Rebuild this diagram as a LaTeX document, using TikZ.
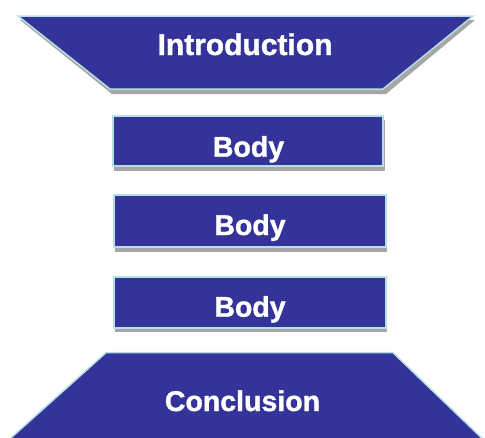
\documentclass[tikz,border=0pt]{standalone}
\usepackage{fontspec}
\setmainfont[BoldFeatures={FakeBold=1.2}]{Liberation Sans}
\definecolor{fillblue}{HTML}{333399}
\definecolor{edgecyan}{HTML}{B4E0E4}
\definecolor{shadowgrey}{HTML}{A6A6A6}
\tikzset{
  panel/.style={fill=fillblue, draw=edgecyan, line width=1.5pt, line join=miter},
  panelshadow/.style={fill=shadowgrey, draw=none},
  label/.style={text=white, font=\fontsize{28.5}{30}\selectfont\bfseries, anchor=base, inner sep=0pt}
}
\begin{document}
\begin{tikzpicture}[x=1pt,y=-1pt]
\useasboundingbox (0,0) rectangle (485,437);
\clip (0,0) rectangle (485,437);
% Introduction
\fill[panelshadow] (20,20) -- (475,20) -- (386,94) -- (112,94) -- cycle;
\path[panel] (18,16) -- (473,16) -- (383,89) -- (110,89) -- cycle;
\node[label, font=\fontsize{30}{32}\selectfont\bfseries] (intro) at (245,55) {Introduction};
% Body boxes
\fill[panelshadow] (114,120) rectangle (385,171);
\path[panel] (113,116) rectangle (383,166);
\node[label] (body1) at (248.5,156.7) {Body};
\fill[panelshadow] (115,199) rectangle (387,252);
\path[panel] (114,195) rectangle (386,247);
\node[label] (body2) at (250,235) {Body};
\fill[panelshadow] (115,281) rectangle (387,332);
\path[panel] (114,277) rectangle (386,328);
\node[label] (body3) at (250,316.7) {Body};
% Conclusion
\path[panel] (106,352.7) -- (393,352.7) -- (489,445) -- (3,445) -- cycle;
\node[label] (concl) at (242.5,411) {Conclusion};
\end{tikzpicture}
\end{document}
